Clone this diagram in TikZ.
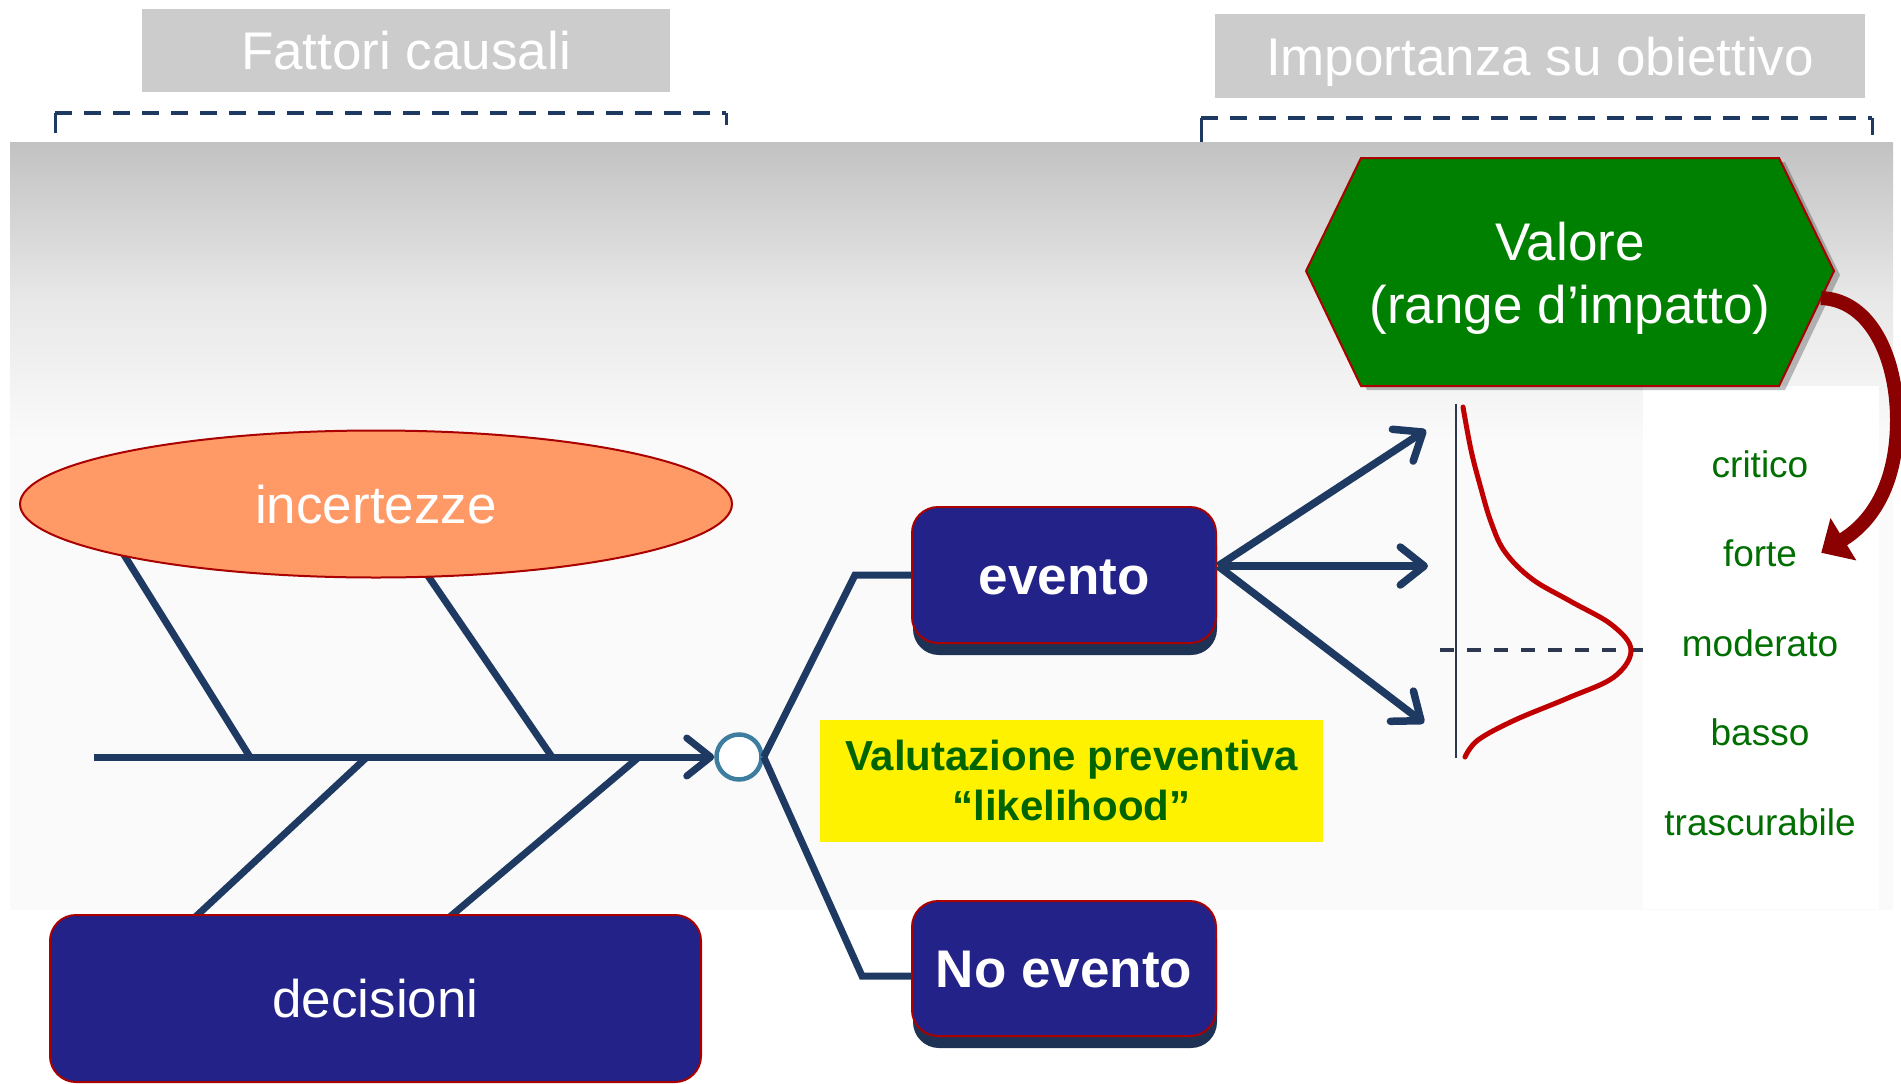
\documentclass[tikz,border=0pt]{standalone}
\usepackage{fontspec}
\setmainfont{Liberation Sans}
\usetikzlibrary{arrows.meta,shapes.geometric,calc,shadows}
\definecolor{navyfill}{RGB}{34,34,136}
\definecolor{linec}{RGB}{31,58,98}
\definecolor{edgered}{RGB}{170,0,0}
\definecolor{hdrgray}{RGB}{204,204,204}
\definecolor{salmon}{RGB}{255,153,102}
\definecolor{valgreen}{RGB}{0,128,0}
\definecolor{labgreen}{RGB}{0,110,0}
\definecolor{txtgreen}{RGB}{0,100,0}
\definecolor{circc}{RGB}{60,125,160}
\definecolor{arrred}{RGB}{139,0,0}
\definecolor{curvered}{RGB}{192,0,0}
\definecolor{shadowc}{RGB}{30,50,85}
\definecolor{axisc}{RGB}{45,55,80}
\definecolor{bgtop}{RGB}{194,194,194}
\definecolor{bgmid}{RGB}{232,232,232}
\definecolor{bgbot}{RGB}{250,250,250}
\begin{document}
\begin{tikzpicture}[x=1pt,y=-1pt,
  big/.style={font=\fontsize{53}{64}\selectfont, text=white, text height=38pt, text depth=0pt, inner sep=0pt},
  hdr/.style={big, fill=hdrgray},
  navybox/.style={big, fill=navyfill, draw=edgered, line width=2pt, rounded corners=26pt},
  bone/.style={draw=linec, line width=7pt},
  chev/.style={-{Straight Barb[length=24pt,width=38pt,round]}},
  lab/.style={font=\fontsize{37}{44}\selectfont, text=labgreen, anchor=base, inner sep=0pt},
  brk/.style={draw=linec, line width=4.5pt, dash pattern=on 17pt off 12pt},
  tick/.style={draw=linec, line width=3pt},
  bshadow/.style={drop shadow={shadow xshift=1pt, shadow yshift=-12pt, fill=shadowc, opacity=1}},
]
\useasboundingbox (0,0) rectangle (1901,1084);
\fill[white] (0,0) rectangle (1901,1084);
% background panel
\shade[top color=bgtop, bottom color=bgmid] (10,142) rectangle (1893,300);
\shade[top color=bgmid, bottom color=bgbot] (10,299) rectangle (1893,440);
\fill[bgbot] (10,439) rectangle (1893,910);
\fill[white] (1643,386) rectangle (1879,909);

% headers
\node[hdr, minimum width=528pt, minimum height=83pt] (fattori) at (406,50) {Fattori causali};
\node[hdr, minimum width=650pt, minimum height=84pt] (importanza) at (1540,56) {Importanza su obiettivo};

% brackets
\coordinate (b1l) at (55,113); \coordinate (b1r) at (726,113);
\coordinate (b1lt) at (55,133); \coordinate (b1rt) at (726,125);
\draw[brk] (b1l) -- (b1r);
\draw[tick] (b1l) -- (b1lt); \draw[tick] (b1r) -- (b1rt);
\coordinate (b2l) at (1201,118); \coordinate (b2r) at (1872,118);
\coordinate (b2lt) at (1201,142); \coordinate (b2rt) at (1872,135);
\draw[brk] (b2l) -- (b2r);
\draw[tick] (b2l) -- (b2lt); \draw[tick] (b2r) -- (b2rt);

% fishbone ribs
\coordinate (s1) at (250,757); \coordinate (s2) at (552,757);
\coordinate (s3) at (367,757); \coordinate (s4) at (639,757);
\coordinate (u1) at (121,550); \coordinate (u2) at (424,570);
\coordinate (d1) at (191,921); \coordinate (d2) at (445,921);
\draw[bone] (s1) -- (u1);
\draw[bone] (s2) -- (u2);
\draw[bone] (s3) -- (d1);
\draw[bone] (s4) -- (d2);

\node[big, ellipse, fill=salmon, draw=edgered, line width=2pt, minimum width=712pt, minimum height=147pt] (incertezze) at (376,504) {incertezze};
\node[navybox, minimum width=651pt, minimum height=167pt] (decisioni) at (375.5,998.5) {decisioni};

% spine and circle
\node[circle, fill=white, draw=circc, line width=4.5pt, minimum size=45pt, inner sep=0pt] (circ) at (739,757) {};
\coordinate (tail) at (94,757);
\draw[bone, chev] (tail) -- (circ.west);

% event boxes
\node[navybox, bshadow, minimum width=304pt, minimum height=136pt] (evento) at (1064,575) {\bfseries evento};
\node[navybox, bshadow, minimum width=304pt, minimum height=135pt] (noevento) at (1064,968.5) {\bfseries No evento};
\coordinate (e1) at (855,575);
\coordinate (e2) at (862,976);
\draw[bone] (circ.east) -- (e1) -- (evento.west);
\draw[bone] (circ.east) -- (e2) -- ($(noevento.west)+(0,7.5)$);

% likelihood box
\node[fill=yellow, minimum width=503pt, minimum height=122pt, inner sep=0pt, align=center,
      font=\fontsize{42}{50}\selectfont\bfseries, text=txtgreen] (likeli) at (1071.5,780.5)
      {Valutazione preventiva\\“likelihood”};

% hexagon
\fill[black, opacity=0.25] (1367,162) -- (1785,162) -- (1840,275) -- (1785,390) -- (1367,390) -- (1312,275) -- cycle;
\filldraw[fill=valgreen, draw=edgered, line width=2pt] (1361,158) -- (1779,158) -- (1834,271) -- (1779,386) -- (1361,386) -- (1306,271) -- cycle;
\node[font=\fontsize{53}{63}\selectfont, text=white, align=center, inner sep=0pt, anchor=north] (valore) at (1570,222) {Valore\\(range d’impatto)};

% scale labels
\node[lab] (critico) at (1760,477) {critico};
\node[lab] (forte) at (1760,566) {forte};
\node[lab] (moderato) at (1760,656) {moderato};
\node[lab] (basso) at (1760,745) {basso};
\node[lab] (trascurabile) at (1760,835) {trascurabile};

% distribution chart
\coordinate (axtop) at (1456,404); \coordinate (axbot) at (1456,758);
\draw[axisc, line width=2.5pt] (axtop) -- (axbot);
\coordinate (mdl) at (1440,650); \coordinate (mdr) at (1643,650);
\draw[axisc, line width=3.5pt, dash pattern=on 14pt off 13pt] (mdl) -- (mdr);
\draw[curvered, line width=5pt, line cap=round] plot[smooth, tension=0.6] coordinates
  {(1463,407) (1471,450) (1480,485) (1491,522) (1505,552) (1532,579) (1570,601) (1612,625) (1631,650) (1614,677) (1568,698) (1515,720) (1478,740) (1465,757)};

% arrows from evento
\coordinate (fan) at ($(evento.east)+(1,-9)$);
\coordinate (t1) at (1426,430);
\coordinate (t2) at (1428,566);
\coordinate (t3) at (1424,723);
\draw[bone, line width=7.5pt, chev] (fan) -- (t1);
\draw[bone, line width=7.5pt, chev] (fan) -- (t2);
\draw[bone, line width=7.5pt, chev] (fan) -- (t3);

% curved red arrow
\coordinate (vout) at (1821,298);
\draw[arrred, line width=14pt, -{Triangle[width=48pt,length=26pt]}] (vout) .. controls (1872,300) and (1897,360) .. (1897,420) .. controls (1897,480) and (1875,520) .. ([xshift=24pt]forte.east);
\end{tikzpicture}
\end{document}
